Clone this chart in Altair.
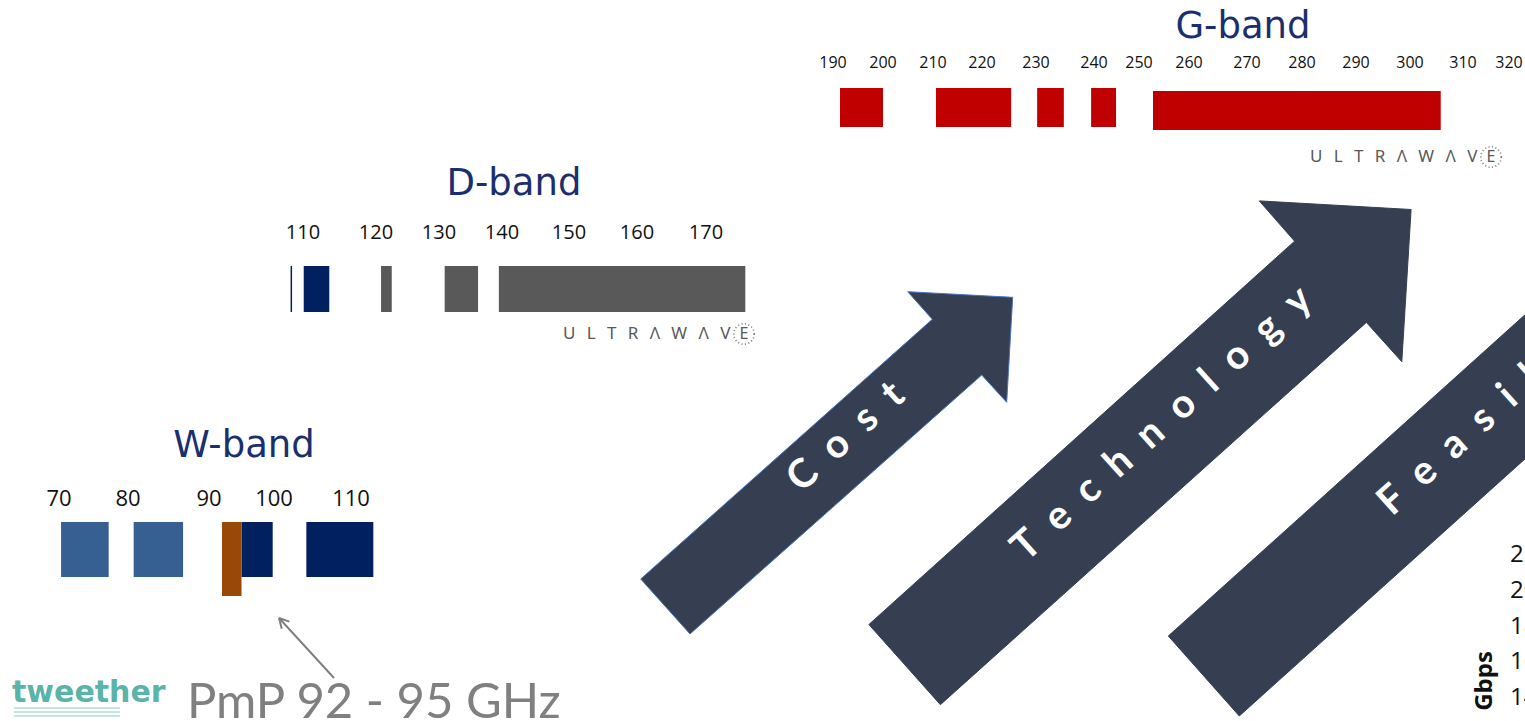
import math
import altair as alt
import pandas as pd

# ---------------------------------------------------------------------------
# Spectrum allocations (GHz)
# ---------------------------------------------------------------------------
W_TICKS = [70, 80, 90, 100, 110]
W_EBAND_START = [70.3, 80.7]
W_EBAND_END = [77.2, 86.8]
W_NAVY_START = [95.0, 104.2]
W_NAVY_END = [99.8, 112.9]
W_PMP_START = [92.0]
W_PMP_END = [95.0]

D_TICKS = [110, 120, 130, 140, 150, 160, 170]
D_LINE = [108.4]
D_NAVY_START = [110.1]
D_NAVY_END = [113.6]
D_GREY_START = [120.8, 130.9, 139.5]
D_GREY_END = [122.5, 136.2, 175.7]

G_TICKS = [190, 200, 210, 220, 230, 240, 250, 260, 270, 280, 290, 300, 310, 320]
G_RED_START = [191.4, 210.6, 230.2, 239.5, 252.8]
G_RED_END = [200.0, 225.4, 234.8, 244.9, 305.8]

GBPS_TICKS = [220, 200, 180, 160, 140, 120]

ARROW_LABELS = ["Cost", "Technology", "Feasibility"]
PMP_LABEL = "PmP 92 - 95 GHz"

# ---------------------------------------------------------------------------
# Layout (pixels)
# ---------------------------------------------------------------------------
W, H = 1525, 721
NAVY_TXT = "#1B2F6E"
ARROW_FILL = "#353F51"
TITLE_FONT = "DejaVu Sans"

W_RANGE = [59, 128, 209, 274, 351]
D_RANGE = [303, 376, 439, 502, 569, 637, 706]
G_RANGE = [833, 883, 933, 982, 1036, 1094, 1139, 1189, 1247, 1302, 1356, 1410, 1463, 1509]

ARROWS = {
    "Cost": [(640.7, 579), (932.3, 319.3), (907.7, 291.7), (1012.7, 297.3),
             (1006.7, 402.3), (981.7, 375), (690, 634)],
    "Technology": [(868.9, 624.5), (1294.6, 241.2), (1259.3, 200.9), (1411.1, 209.5),
                   (1401.8, 361.7), (1366.4, 322.4), (940.4, 704.7)],
    "Feasibility": [(1168.3, 636), (1614, 234.6), (1611, 381.5), (1239.3, 716)],
}


def band_scale(ticks, px):
    return alt.Scale(domain=ticks, range=px, nice=False, zero=False)


def spans(starts, ends):
    return pd.DataFrame({"start": starts, "end": ends})


def bars(df, scale, y0, y1, color):
    return alt.Chart(df).mark_rect(color=color).encode(
        x=alt.X("start:Q", scale=scale, axis=None),
        x2="end:Q",
        y=alt.value(y0),
        y2=alt.value(y1),
    )


def tick_labels(ticks, scale, y, size):
    df = pd.DataFrame({"f": ticks, "label": [str(t) for t in ticks]})
    return alt.Chart(df).mark_text(
        font="Open Sans", fontSize=size, color="#111111", baseline="middle", align="center"
    ).encode(x=alt.X("f:Q", scale=scale, axis=None), y=alt.value(y), text="label:N")


one = pd.DataFrame({"k": [0]})


def label(text, x, y, size, color, font="Lato", weight="normal", align="center",
          baseline="middle", angle=0):
    kw = dict(text=text, font=font, fontSize=size, color=color, fontWeight=weight,
              align=align, baseline=baseline)
    if angle:
        kw["angle"] = angle
    return alt.Chart(one).mark_text(**kw).encode(x=alt.value(x), y=alt.value(y))


def polygon(points, fill, stroke=None):
    path = "M" + " L".join(f"{x},{y}" for x, y in points) + " Z"
    return alt.Chart(one).mark_point(
        shape=path, size=4, filled=True, fill=fill, opacity=1,
        stroke=stroke if stroke else fill, strokeWidth=1, clip=True,
    ).encode(x=alt.value(0), y=alt.value(0))


def segment(x0, y0, x1, y1, color, width):
    return alt.Chart(one).mark_rule(color=color, strokeWidth=width).encode(
        x=alt.value(x0), y=alt.value(y0), x2=alt.value(x1), y2=alt.value(y1)
    )


def spaced(word, gap="\u2002"):
    return gap.join(word)


def ultrawave(x_left, x_e, y):
    letters = "\u2002\u2009".join("ULTRΛWΛV")
    ring = alt.Chart(one).mark_point(
        shape="circle", size=420, filled=False, stroke="#777777", strokeWidth=1.6,
        strokeDash=[1, 2.5], opacity=1,
    ).encode(x=alt.value(x_e), y=alt.value(y))
    return [
        label(letters, x_left, y, 17, "#595959", font="Noto Sans", align="left"),
        label("E", x_e, y, 16, "#595959", font="Noto Sans"),
        ring,
    ]


w_scale = band_scale(W_TICKS, W_RANGE)
d_scale = band_scale(D_TICKS, D_RANGE)
g_scale = band_scale(G_TICKS, G_RANGE)

layers = []

# Arrows with their captions
layers.append(polygon(ARROWS["Cost"], ARROW_FILL, stroke="#4A74C0"))
layers.append(polygon(ARROWS["Technology"], ARROW_FILL))
layers.append(polygon(ARROWS["Feasibility"], ARROW_FILL))
layers.append(label(spaced(ARROW_LABELS[0]), 846, 437, 40, "white", weight="bold", angle=318))
layers.append(label(spaced(ARROW_LABELS[1]), 1162, 424, 40, "white", weight="bold", angle=318))
layers.append(label(spaced(ARROW_LABELS[2]), 1384, 508, 40, "white", weight="bold",
                    align="left", angle=318))

# W-band
layers.append(label("W-band", 244, 446, 37, NAVY_TXT, font=TITLE_FONT))
layers.append(tick_labels(W_TICKS, w_scale, 499, 22))
layers.append(bars(spans(W_EBAND_START, W_EBAND_END), w_scale, 522, 577, "#376092"))
layers.append(bars(spans(W_NAVY_START, W_NAVY_END), w_scale, 522, 577, "#002060"))
layers.append(bars(spans(W_PMP_START, W_PMP_END), w_scale, 522, 596, "#984807"))

# D-band
layers.append(label("D-band", 514, 184, 37, NAVY_TXT, font=TITLE_FONT))
layers.append(tick_labels(D_TICKS, d_scale, 233, 20))
layers.append(
    alt.Chart(pd.DataFrame({"f": D_LINE})).mark_rule(color="#002060", strokeWidth=1.5).encode(
        x=alt.X("f:Q", scale=d_scale, axis=None), y=alt.value(266), y2=alt.value(312)
    )
)
layers.append(bars(spans(D_NAVY_START, D_NAVY_END), d_scale, 266, 312, "#002060"))
layers.append(bars(spans(D_GREY_START, D_GREY_END), d_scale, 266, 312, "#595959"))
layers += ultrawave(563, 744, 334)

# G-band
layers.append(label("G-band", 1243, 27, 37, NAVY_TXT, font=TITLE_FONT))
layers.append(tick_labels(G_TICKS, g_scale, 63, 16))
layers.append(bars(spans(G_RED_START[:4], G_RED_END[:4]), g_scale, 88, 127, "#C00000"))
layers.append(bars(spans(G_RED_START[4:], G_RED_END[4:]), g_scale, 91, 130, "#C00000"))
layers += ultrawave(1310, 1491, 157)

# Pointer to the PmP allocation
tail, head = (334, 678), (279, 618)
layers.append(segment(*tail, *head, "#7F7F7F", 2))
ang = math.atan2(tail[1] - head[1], tail[0] - head[0])
for d in (math.radians(28), -math.radians(28)):
    layers.append(segment(head[0], head[1], head[0] + 11 * math.cos(ang + d),
                          head[1] + 11 * math.sin(ang + d), "#7F7F7F", 2))
layers.append(label(PMP_LABEL, 187, 718, 49, "#808080", align="left", baseline="alphabetic"))

# tweether wordmark
layers.append(label("tweether", 12, 702, 30, "#5AB4AA", font="DejaVu Sans", weight="bold",
                    align="left", baseline="alphabetic"))
for yy in (708, 712, 716):
    layers.append(segment(14, yy, 120, yy, "#8CCBC4", 1.2))

# Throughput axis of the neighbouring panel
layers.append(label("Gbps", 1485, 681, 24, "#111111", font="Open Sans", weight="bold",
                    angle=270))
layers.append(
    alt.Chart(pd.DataFrame({"v": GBPS_TICKS, "t": [str(v) for v in GBPS_TICKS]})).mark_text(
        font="Open Sans", fontSize=24, color="#111111", align="left", baseline="middle"
    ).encode(
        x=alt.value(1510),
        y=alt.Y("v:Q", scale=alt.Scale(domain=[140, 220], range=[698, 555], nice=False,
                                       zero=False), axis=None),
        text="t:N",
    )
)

chart = (
    alt.layer(*layers)
    .resolve_scale(x="independent", y="independent")
    .properties(width=W, height=H, padding=0, autosize="none", background="white")
    .configure_view(stroke=None)
)

chart.save("out.html", embed_options={"renderer": "svg", "actions": False})
